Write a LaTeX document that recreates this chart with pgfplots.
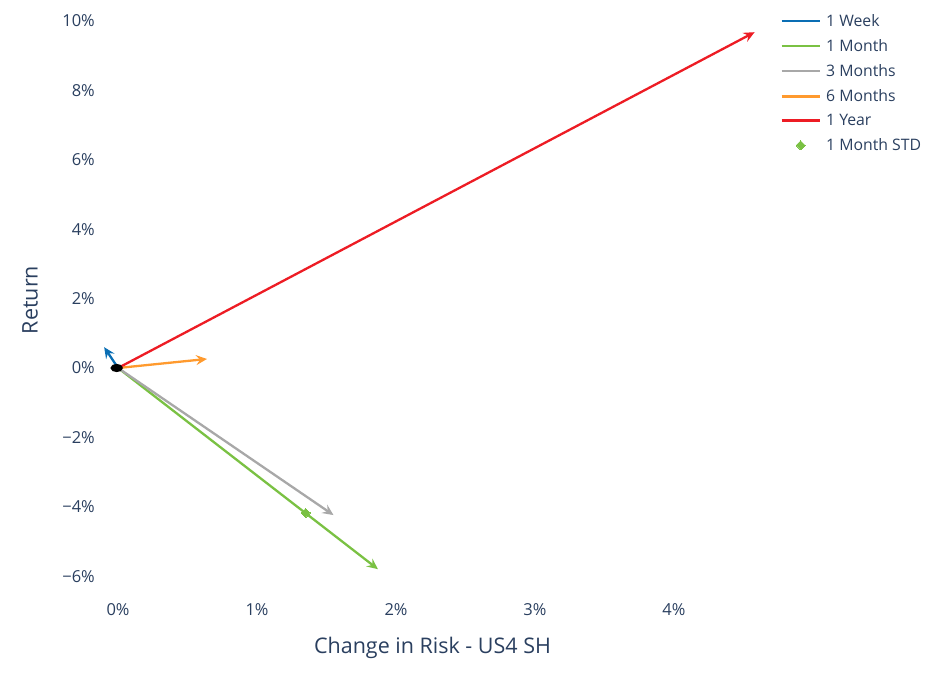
\documentclass[border=0pt]{standalone}
\usepackage{pgfplots}
\pgfplotsset{compat=1.18}
\usepackage{fontspec}
\setmainfont{Open Sans}
\usetikzlibrary{arrows.meta}
\definecolor{txt}{HTML}{2A3F5F}
\definecolor{cweek}{HTML}{0A6EB4}
\definecolor{cmonth}{HTML}{7AC143}
\definecolor{c3m}{HTML}{A8A8A8}
\definecolor{c6m}{HTML}{FF9A2E}
\definecolor{cyear}{HTML}{ED1C24}
\pgfplotsset{markleg/.style={legend image code/.code={\draw[##1] plot coordinates {(19pt,0pt)};}}}
\begin{document}
\begin{tikzpicture}[x=1pt,y=1pt]
\path[use as bounding box] (0,0) rectangle (936,672);
\begin{axis}[
  at={(100pt,82pt)}, anchor=south west,
  scale only axis, width=665pt, height=580pt,
  xmin=-0.13, xmax=4.655, ymin=-6.4, ymax=10.32,
  axis line style={draw=none}, tick style={draw=none},
  clip=false,
  xtick={0,1,2,3,4}, xticklabels={0\%,1\%,2\%,3\%,4\%},
  ytick={-6,-4,-2,0,2,4,6,8,10},
  yticklabels={−6\%,−4\%,−2\%,0\%,2\%,4\%,6\%,8\%,10\%},
  xticklabel style={font=\fontsize{16.5}{19}\selectfont, text=txt, inner sep=0pt, anchor=north, yshift=-13pt},
  yticklabel style={font=\fontsize{16.5}{19}\selectfont, text=txt, inner sep=0pt, anchor=east, xshift=-5pt},
  xlabel={Change in Risk - US4 SH}, ylabel={Return},
  label style={font=\fontsize{21.5}{24}\selectfont, text=txt},
  xlabel style={at={(axis description cs:0.5,-0.1)}, anchor=center},
  ylabel style={at={(axis description cs:-0.105,0.5)}, anchor=center},
  legend style={at={(axis description cs:1.0226,0.9964)}, anchor=north west, draw=none, fill=none,
    font=\fontsize{15.8}{18}\selectfont, text=txt, row sep=7.5pt, inner sep=0pt, column sep=3pt,
    cells={anchor=west}},
  legend image code/.code={\draw[#1,-,line width=2.9pt] (0pt,0pt) -- (38pt,0pt);},
  every axis plot/.append style={line width=2.3pt},
]
\addplot[cweek, -{Stealth[length=11pt,width=10pt,inset=4pt]}] coordinates {(0,0) (-0.1,0.6)};
\addlegendentry{1 Week}
\addplot[cmonth, -{Stealth[length=11pt,width=10pt,inset=4pt]}] coordinates {(0,0) (1.87,-5.8)};
\addlegendentry{1 Month}
\addplot[c3m, -{Stealth[length=11pt,width=10pt,inset=4pt]}] coordinates {(0,0) (1.55,-4.24)};
\addlegendentry{3 Months}
\addplot[c6m, -{Stealth[length=11pt,width=10pt,inset=4pt]}] coordinates {(0,0) (0.64,0.26)};
\addlegendentry{6 Months}
\addplot[cyear, -{Stealth[length=11pt,width=10pt,inset=4pt]}] coordinates {(0,0) (4.58,9.68)};
\addlegendentry{1 Year}
\addplot[only marks, mark=square*, mark size=3.2pt, cmonth, mark options={rotate=45,fill=cmonth,draw=cmonth,line width=0pt}, markleg] coordinates {(1.35,-4.18)};
\addlegendentry{1 Month STD}
\addplot[only marks, mark=*, black, mark size=2.9pt, mark options={xscale=1.7}, forget plot] coordinates {(-0.01,0)};
\end{axis}
\end{tikzpicture}
\end{document}
